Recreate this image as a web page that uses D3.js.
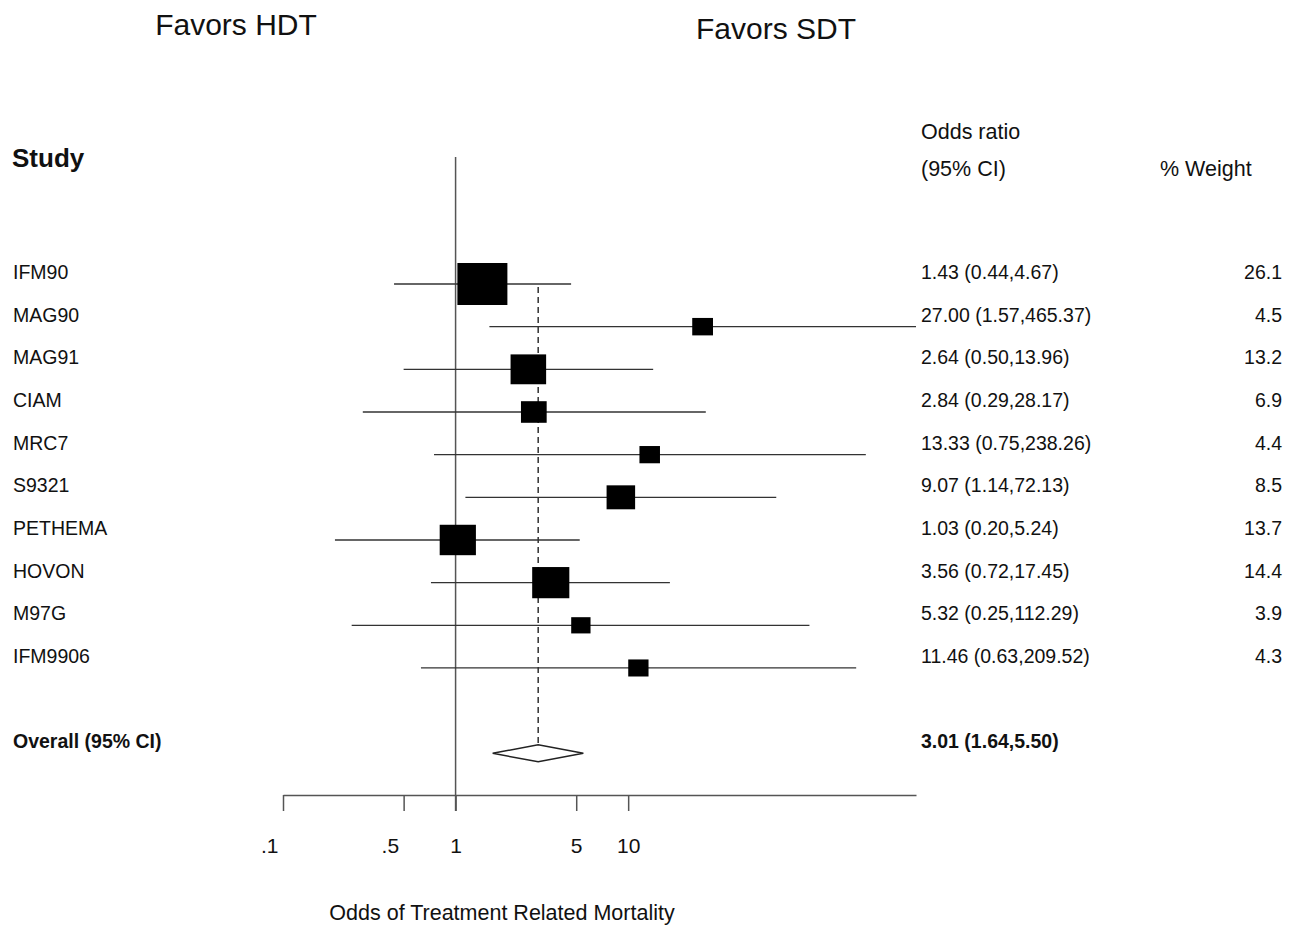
<!DOCTYPE html>
<html>
<head>
<meta charset="utf-8">
<script src="https://cdn.jsdelivr.net/npm/d3@7"></script>
<style>
  html, body { margin: 0; padding: 0; background: #fff; }
  svg { display: block; font-family: Arial, "Liberation Sans", Helvetica, sans-serif; }
</style>
</head>
<body>
<svg id="chart" width="1296" height="926"></svg>
<script>
// ---- data ----
const studies = ["IFM90", "MAG90", "MAG91", "CIAM", "MRC7", "S9321", "PETHEMA", "HOVON", "M97G", "IFM9906"];
const oddsRatio = [1.43, 27.00, 2.64, 2.84, 13.33, 9.07, 1.03, 3.56, 5.32, 11.46];
const ciLower = [0.44, 1.57, 0.50, 0.29, 0.75, 1.14, 0.20, 0.72, 0.25, 0.63];
const ciUpper = [4.67, 465.37, 13.96, 28.17, 238.26, 72.13, 5.24, 17.45, 112.29, 209.52];
const weights = [26.1, 4.5, 13.2, 6.9, 4.4, 8.5, 13.7, 14.4, 3.9, 4.3];
const overallLabel = "Overall (95% CI)";
const overallOR = 3.01;
const overallLower = 1.64;
const overallUpper = 5.50;
const tickValues = [0.1, 0.5, 1, 5, 10];
const tickLabels = [".1", ".5", "1", "5", "10"];

// ---- layout ----
const svg = d3.select("#chart");
const x = d3.scaleLog().domain([0.1, d3.max(ciUpper)]).range([283, 916]);
const y = d3.scaleLinear().domain([0, 11]).range([284, 753.3]);
const boxW = d3.scaleSqrt().domain([0, d3.max(weights)]).range([0, 50]);
const boxH = d3.scaleSqrt().domain([0, d3.max(weights)]).range([0, 42]);
const f2 = d3.format(".2f");
const f1 = d3.format(".1f");
const axisY = 795;
const overallRow = 11;

const rows = studies.map((s, i) => ({
  study: s, or: oddsRatio[i], lo: ciLower[i], hi: ciUpper[i], w: weights[i], i
}));

// Titles
svg.append("text").attr("x", 236).attr("y", 34.5).attr("text-anchor", "middle")
  .attr("font-size", 30).attr("fill", "#111").text("Favors HDT");
svg.append("text").attr("x", 776).attr("y", 38.5).attr("text-anchor", "middle")
  .attr("font-size", 30).attr("fill", "#111").text("Favors SDT");

// Column headers
svg.append("text").attr("x", 12).attr("y", 167).attr("font-size", 26)
  .attr("font-weight", "bold").attr("fill", "#111").text("Study");
svg.append("text").attr("x", 921).attr("y", 139).attr("font-size", 21.5)
  .attr("fill", "#111").text("Odds ratio");
svg.append("text").attr("x", 921).attr("y", 176).attr("font-size", 21.5)
  .attr("fill", "#111").text("(95% CI)");
svg.append("text").attr("x", 1160).attr("y", 176).attr("font-size", 21.5)
  .attr("fill", "#111").text("% Weight");

// Null line at OR = 1
svg.append("line")
  .attr("x1", x(1)).attr("x2", x(1))
  .attr("y1", 157).attr("y2", axisY + 16)
  .attr("stroke", "#555").attr("stroke-width", 1.5);

// Dashed overall line
svg.append("line")
  .attr("x1", x(overallOR)).attr("x2", x(overallOR))
  .attr("y1", y(0) + 3).attr("y2", y(overallRow))
  .attr("stroke", "#222").attr("stroke-width", 1.4)
  .attr("stroke-dasharray", "6,4");

// CI lines
svg.append("g").selectAll("line").data(rows).join("line")
  .attr("x1", d => x(d.lo)).attr("x2", d => x(d.hi))
  .attr("y1", d => y(d.i)).attr("y2", d => y(d.i))
  .attr("stroke", "#333").attr("stroke-width", 1.3);

// Boxes
svg.append("g").selectAll("rect").data(rows).join("rect")
  .attr("x", d => x(d.or) - boxW(d.w) / 2)
  .attr("y", d => y(d.i) - boxH(d.w) / 2)
  .attr("width", d => boxW(d.w))
  .attr("height", d => boxH(d.w))
  .attr("fill", "#000");

// Overall diamond
const yo = y(overallRow);
svg.append("path")
  .attr("d", `M${x(overallLower)},${yo} L${x(overallOR)},${yo - 8.5} L${x(overallUpper)},${yo} L${x(overallOR)},${yo + 8.5} Z`)
  .attr("fill", "#fff").attr("stroke", "#222").attr("stroke-width", 1.5);

// Row labels
const txt = svg.append("g").attr("font-size", 19.5).attr("fill", "#111");
txt.selectAll("text.study").data(rows).join("text").attr("class", "study")
  .attr("x", 13).attr("y", d => y(d.i) - 5).text(d => d.study);
txt.selectAll("text.ci").data(rows).join("text").attr("class", "ci")
  .attr("x", 921).attr("y", d => y(d.i) - 5)
  .text(d => `${f2(d.or)} (${f2(d.lo)},${f2(d.hi)})`);
txt.selectAll("text.wt").data(rows).join("text").attr("class", "wt")
  .attr("x", 1282).attr("y", d => y(d.i) - 5).attr("text-anchor", "end")
  .text(d => f1(d.w));

// Overall labels
svg.append("text").attr("x", 13).attr("y", yo - 5).attr("font-size", 19.5)
  .attr("font-weight", "bold").attr("fill", "#111").text(overallLabel);
svg.append("text").attr("x", 921).attr("y", yo - 5).attr("font-size", 19.5)
  .attr("font-weight", "bold").attr("fill", "#111")
  .text(`${f2(overallOR)} (${f2(overallLower)},${f2(overallUpper)})`);

// Axis
const axis = d3.axisBottom(x)
  .tickValues(tickValues)
  .tickFormat((d, i) => tickLabels[i])
  .tickSize(16).tickSizeOuter(0).tickPadding(27);
const ax = svg.append("g").attr("transform", `translate(0,${axisY})`).call(axis);
ax.select(".domain").attr("stroke", "#555").attr("stroke-width", 1.5);
ax.selectAll(".tick line").attr("stroke", "#555").attr("stroke-width", 1.5);
ax.selectAll(".tick text")
  .attr("font-size", 21).attr("fill", "#111")
  .attr("font-family", "Arial, 'Liberation Sans', Helvetica, sans-serif")
  .attr("text-anchor", (d, i) => tickLabels[i].startsWith(".") ? "end" : "middle")
  .attr("dx", (d, i) => tickLabels[i].startsWith(".") ? -5 : 0);

// Axis title
svg.append("text").attr("x", 502).attr("y", 920).attr("text-anchor", "middle")
  .attr("font-size", 21.5).attr("fill", "#111").text("Odds of Treatment Related Mortality");
</script>
</body>
</html>
